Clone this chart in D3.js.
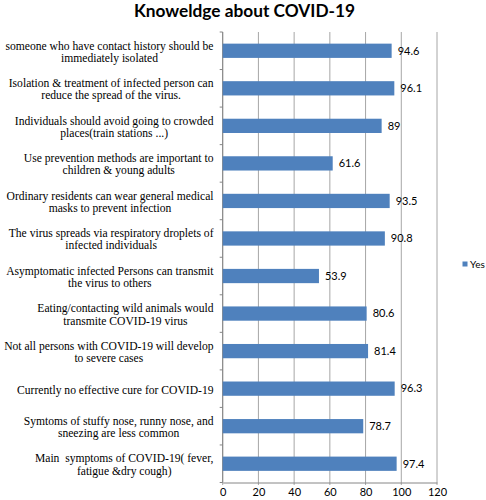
<!DOCTYPE html>
<html>
<head>
<meta charset="utf-8">
<script src="https://cdn.jsdelivr.net/npm/d3@7"></script>
<style>
  html, body { margin: 0; padding: 0; background: #fff; }
  svg { display: block; }
</style>
</head>
<body>
<svg id="chart" width="486" height="500"></svg>
<script>
const title = "Knoweldge about COVID-19";
const categories = [
  ["someone who have contact history should be", "immediately isolated"],
  ["Isolation & treatment of infected person can", "reduce the spread of the virus."],
  ["Individuals should avoid going to crowded", "places(train stations ...)"],
  ["Use prevention methods are important to", "children & young adults"],
  ["Ordinary residents can wear general medical", "masks to prevent infection"],
  ["The virus spreads via respiratory droplets of", "infected individuals"],
  ["Asymptomatic infected Persons can transmit", "the virus to others"],
  ["Eating/contacting wild animals would", "transmite COVID-19 virus"],
  ["Not all persons with COVID-19 will develop", "to severe cases"],
  ["Currently no effective cure for COVID-19"],
  ["Symtoms of stuffy nose, runny nose, and", "sneezing are less common"],
  ["Main  symptoms of COVID-19( fever,", "fatigue &dry cough)"]
];
const seriesName = "Yes";
const yesValues = [94.6, 96.1, 89, 61.6, 93.5, 90.8, 53.9, 80.6, 81.4, 96.3, 78.7, 97.4];
const xTicks = [0, 20, 40, 60, 80, 100, 120];

const svg = d3.select("#chart");
const pLeft = 222.7, pRight = 437, pTop = 32, pBottom = 482.5;
const x = d3.scaleLinear().domain([0, 120]).range([pLeft, pRight]);
const idx = categories.map((d, i) => i);
const y = d3.scaleBand().domain(idx).range([pTop, pBottom]).paddingInner(0.62).paddingOuter(0.31);
const step = (pBottom - pTop) / categories.length;

const sans = "Lato, 'Open Sans', sans-serif";
const serif = "'Liberation Serif', 'DejaVu Serif', serif";

// Title
svg.append("text").attr("x", 244.5).attr("y", 16.5)
  .attr("text-anchor", "middle")
  .style("font-family", sans).style("font-weight", "bold").style("font-size", "17.3px")
  .attr("fill", "#000").text(title);

// Gridlines (vertical)
svg.append("g").selectAll("line").data(xTicks).join("line")
  .attr("x1", d => x(d)).attr("x2", d => x(d))
  .attr("y1", pTop).attr("y2", pBottom + 2.5)
  .attr("stroke", "#a6a6a6").attr("stroke-width", 1);

// X axis
const xAxis = d3.axisBottom(x).tickValues(xTicks).tickSize(0).tickPadding(6);
const gx = svg.append("g").attr("transform", `translate(0,${pBottom})`).call(xAxis);
gx.select(".domain").attr("stroke", "#868686");
gx.selectAll("text").style("font-family", sans).style("font-size", "11px").attr("fill", "#000");

// Left axis line + ticks at category boundaries
svg.append("line").attr("x1", pLeft).attr("x2", pLeft).attr("y1", pTop).attr("y2", pBottom)
  .attr("stroke", "#868686");
svg.append("g").selectAll("line").data(d3.range(categories.length + 1)).join("line")
  .attr("x1", pLeft - 3).attr("x2", pLeft)
  .attr("y1", i => pTop + i * step).attr("y2", i => pTop + i * step)
  .attr("stroke", "#868686");

// Bars
svg.append("g").selectAll("rect").data(yesValues).join("rect")
  .attr("x", x(0)).attr("y", (d, i) => y(i))
  .attr("width", d => x(d) - x(0)).attr("height", y.bandwidth())
  .attr("fill", "#4f81bd");

// Value labels
svg.append("g").selectAll("text").data(yesValues).join("text")
  .attr("x", d => x(d) + 6).attr("y", (d, i) => y(i) + y.bandwidth() / 2)
  .attr("dy", "0.35em")
  .style("font-family", sans).style("font-size", "11px").attr("fill", "#000")
  .text(d => d);

// Category labels: block right-aligned, lines centered within block
const labelRight = 213.5, lineH = 12.2;
const lg = svg.append("g");
categories.forEach((lines, i) => {
  const cy = y(i) + y.bandwidth() / 2 + 0.8;
  const g = lg.append("g");
  const texts = lines.map((ln, j) => g.append("text")
    .attr("y", cy + (j - (lines.length - 1) / 2) * lineH)
    .attr("dy", "0.35em")
    .attr("text-anchor", "middle")
    .style("font-family", serif).style("font-size", "11.6px").attr("fill", "#000")
    .style("white-space", "pre")
    .text(ln));
  const w = d3.max(texts, t => t.node().getComputedTextLength());
  texts.forEach(t => t.attr("x", labelRight - w / 2));
});

// Legend
svg.append("rect").attr("x", 462.5).attr("y", 261.5).attr("width", 5).attr("height", 5).attr("fill", "#4f81bd");
svg.append("text").attr("x", 470).attr("y", 264).attr("dy", "0.35em")
  .style("font-family", sans).style("font-size", "10px").attr("fill", "#000").text(seriesName);
</script>
</body>
</html>
